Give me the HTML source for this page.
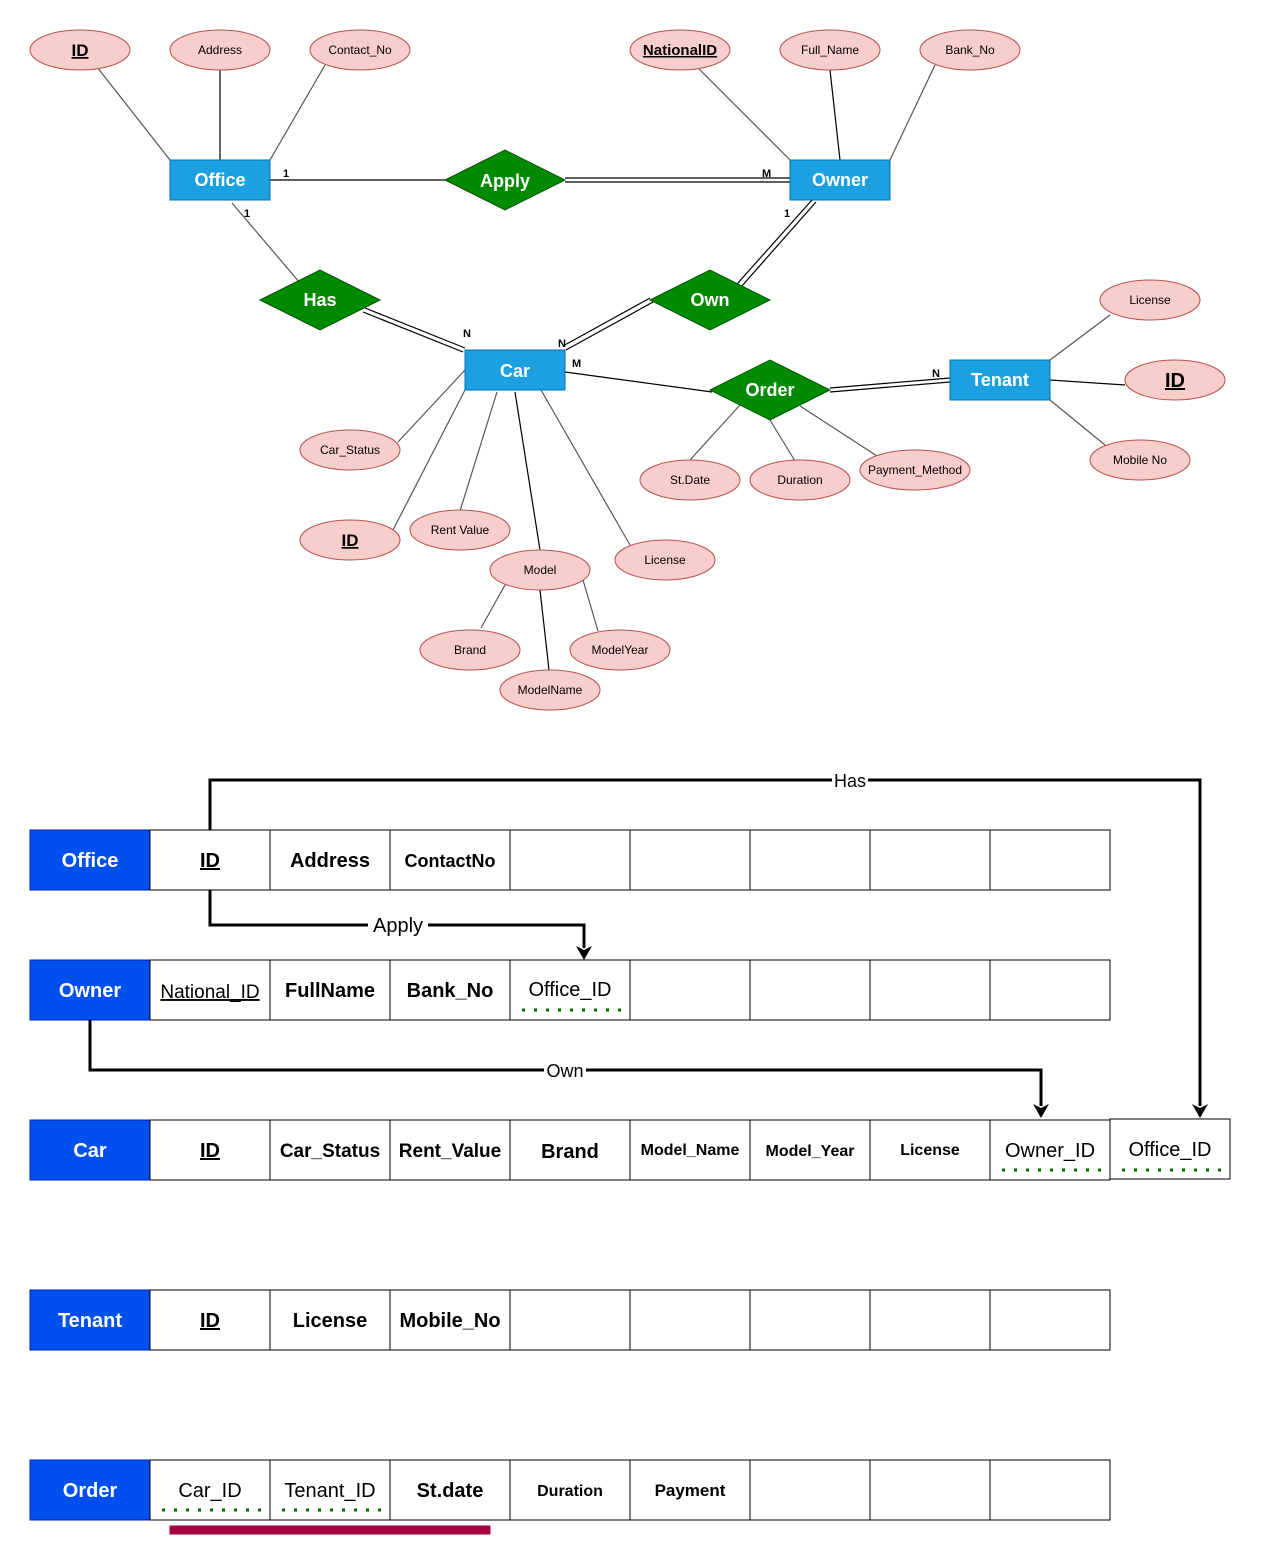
<!DOCTYPE html>
<html><head><meta charset="utf-8"><style>
html,body{margin:0;padding:0;background:#fff}
svg{display:block;font-family:"Liberation Sans",Arial,sans-serif}
.e{fill:#f8cecc;stroke:#b85450;stroke-width:1}
.r{fill:#1ba1e2;stroke:#006eaf;stroke-width:1}
.d{fill:#008a00;stroke:#005700;stroke-width:1}
.l{stroke:#555;stroke-width:1.2;fill:none}
.k{stroke:#000;stroke-width:1.2;fill:none}
.et{font-size:12px;text-anchor:middle;fill:#000}
.wt{font-size:18px;font-weight:bold;text-anchor:middle;fill:#fff}
.c{font-size:11px;font-weight:bold}
.cell{fill:#fff;stroke:#000;stroke-width:1;shape-rendering:crispEdges}
.hd{fill:#0050ef;stroke:#001dbc;stroke-width:1;shape-rendering:crispEdges}
.tt{font-size:20px;font-weight:bold;text-anchor:middle;fill:#000}
.tn{font-size:20px;text-anchor:middle;fill:#000}
.fk{stroke:#006600;stroke-width:3;stroke-dasharray:3 9;fill:none}
.ar{stroke:#000;stroke-width:3;fill:none}
</style></head><body>
<svg width="1265" height="1568" viewBox="0 0 1265 1568" xmlns="http://www.w3.org/2000/svg">
<line class="l" x1="97" y1="67" x2="170" y2="160"/>
<line class="k" x1="220" y1="70" x2="220" y2="160"/>
<line class="l" x1="325" y1="65" x2="270" y2="160"/>
<line class="l" x1="698" y1="68" x2="790" y2="160"/>
<line class="k" x1="830" y1="70" x2="840" y2="160"/>
<line class="l" x1="935" y1="65" x2="890" y2="160"/>
<line class="k" x1="270" y1="180" x2="445" y2="180"/>
<line class="k" x1="565" y1="178" x2="790" y2="178"/><line class="k" x1="565" y1="182" x2="790" y2="182"/>
<line class="l" x1="232" y1="203" x2="300" y2="283"/>
<line class="k" x1="365" y1="308" x2="465" y2="348"/><line class="k" x1="363" y1="312" x2="463" y2="352"/>
<line class="k" x1="563" y1="346" x2="650" y2="298"/><line class="k" x1="566" y1="350" x2="653" y2="302"/>
<line class="k" x1="737" y1="284" x2="812" y2="200"/><line class="k" x1="741" y1="287" x2="816" y2="202"/>
<line class="k" x1="565" y1="372" x2="712" y2="392"/>
<line class="k" x1="830" y1="388" x2="950" y2="378"/><line class="k" x1="830" y1="392" x2="950" y2="382"/>
<line class="l" x1="1050" y1="360" x2="1110" y2="315"/>
<line class="k" x1="1050" y1="380" x2="1125" y2="385"/>
<line class="l" x1="1050" y1="400" x2="1105" y2="445"/>
<line class="l" x1="398" y1="442" x2="465" y2="370"/>
<line class="l" x1="393" y1="530" x2="465" y2="390"/>
<line class="l" x1="460" y1="511" x2="497" y2="392"/>
<line class="k" x1="540" y1="550" x2="515" y2="392"/>
<line class="l" x1="630" y1="545" x2="541" y2="390"/>
<line class="l" x1="481" y1="628" x2="505" y2="585"/>
<line class="l" x1="598" y1="631" x2="583" y2="580"/>
<line class="k" x1="549" y1="670" x2="540" y2="590"/>
<line class="l" x1="690" y1="460" x2="740" y2="405"/>
<line class="l" x1="795" y1="461" x2="770" y2="420"/>
<line class="l" x1="877" y1="456" x2="800" y2="406"/>
<g class="c"><text x="283" y="177">1</text><text x="244" y="217">1</text><text x="762" y="177">M</text><text x="784" y="217">1</text><text x="463" y="337">N</text><text x="558" y="347">N</text><text x="572" y="367">M</text><text x="932" y="377">N</text></g>
<g>
<ellipse class="e" cx="80" cy="50" rx="50" ry="20"/><text class="et" x="80" y="56" style="font-size:17px;font-weight:bold;text-decoration:underline">ID</text>
<ellipse class="e" cx="220" cy="50" rx="50" ry="20"/><text class="et" x="220" y="54">Address</text>
<ellipse class="e" cx="360" cy="50" rx="50" ry="20"/><text class="et" x="360" y="54">Contact_No</text>
<ellipse class="e" cx="680" cy="50" rx="50" ry="20"/><text class="et" x="680" y="55" style="font-size:15px;font-weight:bold;text-decoration:underline">NationalID</text>
<ellipse class="e" cx="830" cy="50" rx="50" ry="20"/><text class="et" x="830" y="54">Full_Name</text>
<ellipse class="e" cx="970" cy="50" rx="50" ry="20"/><text class="et" x="970" y="54">Bank_No</text>
<ellipse class="e" cx="1150" cy="300" rx="50" ry="20"/><text class="et" x="1150" y="304">License</text>
<ellipse class="e" cx="1175" cy="380" rx="50" ry="20"/><text class="et" x="1175" y="387" style="font-size:20px;font-weight:bold;text-decoration:underline">ID</text>
<ellipse class="e" cx="1140" cy="460" rx="50" ry="20"/><text class="et" x="1140" y="464">Mobile No</text>
<ellipse class="e" cx="350" cy="450" rx="50" ry="20"/><text class="et" x="350" y="454">Car_Status</text>
<ellipse class="e" cx="350" cy="540" rx="50" ry="20"/><text class="et" x="350" y="546" style="font-size:17px;font-weight:bold;text-decoration:underline">ID</text>
<ellipse class="e" cx="460" cy="530" rx="50" ry="20"/><text class="et" x="460" y="534">Rent Value</text>
<ellipse class="e" cx="540" cy="570" rx="50" ry="20"/><text class="et" x="540" y="574">Model</text>
<ellipse class="e" cx="665" cy="560" rx="50" ry="20"/><text class="et" x="665" y="564">License</text>
<ellipse class="e" cx="470" cy="650" rx="50" ry="20"/><text class="et" x="470" y="654">Brand</text>
<ellipse class="e" cx="620" cy="650" rx="50" ry="20"/><text class="et" x="620" y="654">ModelYear</text>
<ellipse class="e" cx="550" cy="690" rx="50" ry="20"/><text class="et" x="550" y="694">ModelName</text>
<ellipse class="e" cx="690" cy="480" rx="50" ry="20"/><text class="et" x="690" y="484">St.Date</text>
<ellipse class="e" cx="800" cy="480" rx="50" ry="20"/><text class="et" x="800" y="484">Duration</text>
<ellipse class="e" cx="915" cy="470" rx="55" ry="20"/><text class="et" x="915" y="474">Payment_Method</text>
</g>
<rect class="r" x="170" y="160" width="100" height="40"/><text class="wt" x="220" y="186">Office</text>
<rect class="r" x="790" y="160" width="100" height="40"/><text class="wt" x="840" y="186">Owner</text>
<rect class="r" x="465" y="350" width="100" height="40"/><text class="wt" x="515" y="377">Car</text>
<rect class="r" x="950" y="360" width="100" height="40"/><text class="wt" x="1000" y="386">Tenant</text>
<polygon class="d" points="445,180 505,150 565,180 505,210"/><text class="wt" x="505" y="187">Apply</text>
<polygon class="d" points="260,300 320,270 380,300 320,330"/><text class="wt" x="320" y="306">Has</text>
<polygon class="d" points="650,300 710,270 770,300 710,330"/><text class="wt" x="710" y="306">Own</text>
<polygon class="d" points="710,390 770,360 830,390 770,420"/><text class="wt" x="770" y="396">Order</text>

<g>
<rect class="hd" x="30" y="830" width="120" height="60"/><text class="wt" x="90" y="867" style="font-size:20px">Office</text>
<rect class="cell" x="150" y="830" width="120" height="60"/><rect class="cell" x="270" y="830" width="120" height="60"/><rect class="cell" x="390" y="830" width="120" height="60"/><rect class="cell" x="510" y="830" width="120" height="60"/><rect class="cell" x="630" y="830" width="120" height="60"/><rect class="cell" x="750" y="830" width="120" height="60"/><rect class="cell" x="870" y="830" width="120" height="60"/><rect class="cell" x="990" y="830" width="120" height="60"/>
<text class="tt" x="210" y="867" style="text-decoration:underline">ID</text><text class="tt" x="330" y="867">Address</text><text class="tt" x="450" y="867" style="font-size:18px">ContactNo</text>

<rect class="hd" x="30" y="960" width="120" height="60"/><text class="wt" x="90" y="997" style="font-size:20px">Owner</text>
<rect class="cell" x="150" y="960" width="120" height="60"/><rect class="cell" x="270" y="960" width="120" height="60"/><rect class="cell" x="390" y="960" width="120" height="60"/><rect class="cell" x="510" y="960" width="120" height="60"/><rect class="cell" x="630" y="960" width="120" height="60"/><rect class="cell" x="750" y="960" width="120" height="60"/><rect class="cell" x="870" y="960" width="120" height="60"/><rect class="cell" x="990" y="960" width="120" height="60"/>
<text class="tn" x="210" y="998" style="text-decoration:underline;font-size:19px">National_ID</text><text class="tt" x="330" y="997">FullName</text><text class="tt" x="450" y="997">Bank_No</text><text class="tn" x="570" y="996">Office_ID</text>
<line class="fk" x1="522" y1="1010" x2="625" y2="1010"/>

<rect class="hd" x="30" y="1120" width="120" height="60"/><text class="wt" x="90" y="1157" style="font-size:20px">Car</text>
<rect class="cell" x="150" y="1120" width="120" height="60"/><rect class="cell" x="270" y="1120" width="120" height="60"/><rect class="cell" x="390" y="1120" width="120" height="60"/><rect class="cell" x="510" y="1120" width="120" height="60"/><rect class="cell" x="630" y="1120" width="120" height="60"/><rect class="cell" x="750" y="1120" width="120" height="60"/><rect class="cell" x="870" y="1120" width="120" height="60"/><rect class="cell" x="990" y="1120" width="120" height="60"/><rect class="cell" x="1110" y="1119" width="120" height="60"/>
<text class="tt" x="210" y="1157" style="text-decoration:underline">ID</text><text class="tt" x="330" y="1157" style="font-size:19px">Car_Status</text><text class="tt" x="450" y="1157" style="font-size:19px">Rent_Value</text><text class="tt" x="570" y="1158">Brand</text><text class="tt" x="690" y="1155" style="font-size:16px">Model_Name</text><text class="tt" x="810" y="1156" style="font-size:16px">Model_Year</text><text class="tt" x="930" y="1155" style="font-size:16px">License</text><text class="tn" x="1050" y="1157">Owner_ID</text><text class="tn" x="1170" y="1156">Office_ID</text>
<line class="fk" x1="1002" y1="1170" x2="1105" y2="1170"/><line class="fk" x1="1122" y1="1170" x2="1225" y2="1170"/>

<rect class="hd" x="30" y="1290" width="120" height="60"/><text class="wt" x="90" y="1327" style="font-size:20px">Tenant</text>
<rect class="cell" x="150" y="1290" width="120" height="60"/><rect class="cell" x="270" y="1290" width="120" height="60"/><rect class="cell" x="390" y="1290" width="120" height="60"/><rect class="cell" x="510" y="1290" width="120" height="60"/><rect class="cell" x="630" y="1290" width="120" height="60"/><rect class="cell" x="750" y="1290" width="120" height="60"/><rect class="cell" x="870" y="1290" width="120" height="60"/><rect class="cell" x="990" y="1290" width="120" height="60"/>
<text class="tt" x="210" y="1327" style="text-decoration:underline">ID</text><text class="tt" x="330" y="1327">License</text><text class="tt" x="450" y="1327">Mobile_No</text>

<rect class="hd" x="30" y="1460" width="120" height="60"/><text class="wt" x="90" y="1497" style="font-size:20px">Order</text>
<rect class="cell" x="150" y="1460" width="120" height="60"/><rect class="cell" x="270" y="1460" width="120" height="60"/><rect class="cell" x="390" y="1460" width="120" height="60"/><rect class="cell" x="510" y="1460" width="120" height="60"/><rect class="cell" x="630" y="1460" width="120" height="60"/><rect class="cell" x="750" y="1460" width="120" height="60"/><rect class="cell" x="870" y="1460" width="120" height="60"/><rect class="cell" x="990" y="1460" width="120" height="60"/>
<text class="tn" x="210" y="1497">Car_ID</text><text class="tn" x="330" y="1497">Tenant_ID</text><text class="tt" x="450" y="1497">St.date</text><text class="tt" x="570" y="1496" style="font-size:16px">Duration</text><text class="tt" x="690" y="1496" style="font-size:17px">Payment</text>
<line class="fk" x1="162" y1="1510" x2="265" y2="1510"/><line class="fk" x1="282" y1="1510" x2="385" y2="1510"/>
<rect x="170" y="1526" width="320" height="8" fill="#a50040" stroke="#a50040"/>
</g>

<polyline class="ar" points="210,830 210,780 1200,780 1200,1106"/>
<polygon points="1192,1104 1200,1118 1208,1104 1200,1108" fill="#000"/>
<rect x="832" y="770" width="36" height="20" fill="#fff"/><text class="tn" x="850" y="787" style="font-size:18px">Has</text>
<polyline class="ar" points="210,890 210,925 584,925 584,948"/>
<polygon points="576,946 584,960 592,946 584,950" fill="#000"/>
<rect x="368" y="914" width="60" height="22" fill="#fff"/><text class="tn" x="398" y="932">Apply</text>
<polyline class="ar" points="90,1020 90,1070 1041,1070 1041,1106"/>
<polygon points="1033,1104 1041,1118 1049,1104 1041,1108" fill="#000"/>
<rect x="544" y="1060" width="42" height="20" fill="#fff"/><text class="tn" x="565" y="1077" style="font-size:18px">Own</text>
</svg>
</body></html>
